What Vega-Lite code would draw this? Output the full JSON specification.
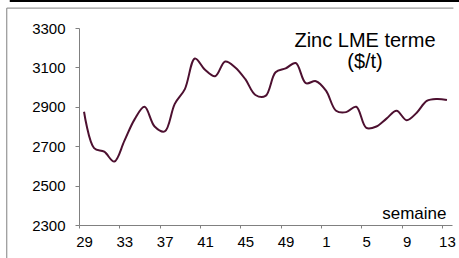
{
  "$schema": "https://vega.github.io/schema/vega-lite/v6.json",
  "width": 373,
  "height": 197,
  "autosize": {"type": "none"},
  "padding": {"left": 79, "top": 28, "right": 7, "bottom": 33},
  "background": "white",
  "config": {
    "view": {"stroke": null},
    "font": "Liberation Sans",
    "axis": {"labelOverlap": false, "labelSeparation": 0}
  },
  "title": {
    "text": ["Zinc LME terme", "($/t)"],
    "anchor": "end",
    "frame": "group",
    "align": "center",
    "dx": -87,
    "offset": -72,
    "fontSize": 20,
    "fontWeight": "normal",
    "lineHeight": 21,
    "color": "black",
    "font": "Liberation Sans"
  },
  "layer": [
    {
      "data": {
        "values": [
          {"i": 0, "semaine": 29, "prix": 2875},
          {"i": 1, "semaine": 30, "prix": 2690},
          {"i": 2, "semaine": 31, "prix": 2672},
          {"i": 3, "semaine": 32, "prix": 2622},
          {"i": 4, "semaine": 33, "prix": 2727},
          {"i": 5, "semaine": 34, "prix": 2835},
          {"i": 6, "semaine": 35, "prix": 2900},
          {"i": 7, "semaine": 36, "prix": 2800},
          {"i": 8, "semaine": 37, "prix": 2775},
          {"i": 9, "semaine": 38, "prix": 2915},
          {"i": 10, "semaine": 39, "prix": 2990},
          {"i": 11, "semaine": 40, "prix": 3145},
          {"i": 12, "semaine": 41, "prix": 3088},
          {"i": 13, "semaine": 42, "prix": 3055},
          {"i": 14, "semaine": 43, "prix": 3130},
          {"i": 15, "semaine": 44, "prix": 3100},
          {"i": 16, "semaine": 45, "prix": 3040},
          {"i": 17, "semaine": 46, "prix": 2960},
          {"i": 18, "semaine": 47, "prix": 2955},
          {"i": 19, "semaine": 48, "prix": 3075},
          {"i": 20, "semaine": 49, "prix": 3095},
          {"i": 21, "semaine": 50, "prix": 3122},
          {"i": 22, "semaine": 51, "prix": 3020},
          {"i": 23, "semaine": 52, "prix": 3030},
          {"i": 24, "semaine": 1, "prix": 2982},
          {"i": 25, "semaine": 2, "prix": 2880},
          {"i": 26, "semaine": 3, "prix": 2873},
          {"i": 27, "semaine": 4, "prix": 2900},
          {"i": 28, "semaine": 5, "prix": 2793},
          {"i": 29, "semaine": 6, "prix": 2800},
          {"i": 30, "semaine": 7, "prix": 2840},
          {"i": 31, "semaine": 8, "prix": 2880},
          {"i": 32, "semaine": 9, "prix": 2832},
          {"i": 33, "semaine": 10, "prix": 2870},
          {"i": 34, "semaine": 11, "prix": 2930},
          {"i": 35, "semaine": 12, "prix": 2940},
          {"i": 36, "semaine": 13, "prix": 2935}
        ]
      },
      "mark": {"type": "line", "color": "#4d1030", "strokeWidth": 2, "interpolate": "catmull-rom"},
      "encoding": {
        "x": {
          "field": "i",
          "type": "quantitative",
          "scale": {"domain": [-0.5, 36.5], "nice": false, "zero": false},
          "axis": {
            "values": [-0.5, 3.5, 7.5, 11.5, 15.5, 19.5, 23.5, 27.5, 31.5, 35.5],
            "tickCount": 20,
            "labelExpr": "toString(((datum.value + 28.5) % 52) + 1)",
            "labelOffset": 5,
            "grid": false,
            "tickSize": 3,
            "domainColor": "#808080",
            "tickColor": "#808080",
            "labelFontSize": 15,
            "labelColor": "black",
            "labelPadding": 6,
            "labelOverlap": false,
            "labelFlush": false,
            "labelBound": false,
            "title": "semaine",
            "titleX": 367,
            "titleY": -7,
            "titleAlign": "right",
            "titleBaseline": "alphabetic",
            "titleFontSize": 17,
            "titleFontWeight": "normal",
            "titleColor": "black"
          }
        },
        "y": {
          "field": "prix",
          "type": "quantitative",
          "scale": {"domain": [2300, 3300], "nice": false, "zero": false},
          "axis": {
            "values": [2300, 2500, 2700, 2900, 3100, 3300],
            "tickCount": 12,
            "format": "d",
            "labelOverlap": false,
            "grid": false,
            "tickSize": 4,
            "domainColor": "#808080",
            "tickColor": "#808080",
            "labelFontSize": 15,
            "labelColor": "black",
            "labelPadding": 10,
            "title": null
          }
        }
      }
    },
    {
      "data": {"values": [{}]},
      "mark": {"type": "rule", "color": "#808080", "strokeWidth": 1, "clip": false},
      "encoding": {
        "x": {"datum": -7.665, "type": "quantitative"},
        "x2": {"datum": 36.64},
        "y": {"datum": 3401, "type": "quantitative"}
      }
    },
    {
      "data": {"values": [{}]},
      "mark": {"type": "rule", "color": "#808080", "strokeWidth": 1, "clip": false},
      "encoding": {
        "x": {"datum": -7.665, "type": "quantitative"},
        "y": {"datum": 3401, "type": "quantitative"},
        "y2": {"datum": 2110}
      }
    },
    {
      "data": {"values": [{}]},
      "mark": {"type": "rule", "color": "black", "strokeWidth": 2, "clip": false},
      "encoding": {
        "x": {"datum": -7.37, "type": "quantitative"},
        "x2": {"datum": 37.2},
        "y": {"datum": 3437, "type": "quantitative"}
      }
    }
  ]
}
